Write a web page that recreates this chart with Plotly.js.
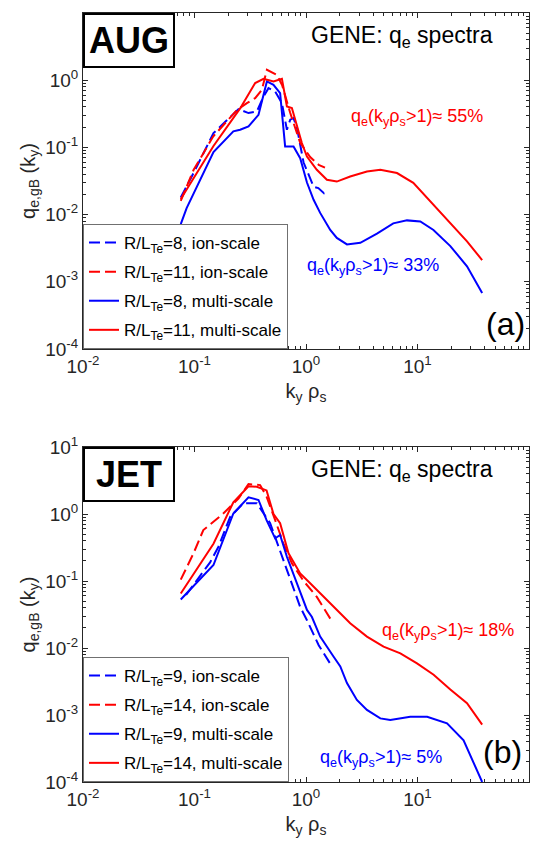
<!DOCTYPE html>
<html>
<head>
<meta charset="utf-8">
<script src="https://cdn.plot.ly/plotly-3.0.1.min.js"></script>
<style>html,body{margin:0;padding:0;background:#fff;}#chart{width:543px;height:843px;}</style>
</head>
<body>
<div id="chart"></div>
<script>
// ---------- AUG (a) ----------
const kAug8Ion  = [0.0753, 0.098, 0.148, 0.248, 0.305, 0.3626, 0.416, 0.461, 0.529, 0.608, 0.674, 0.722, 0.773, 0.83, 0.95, 1.17, 1.29, 1.44, 1.48];
const qAug8Ion  = [0.018, 0.0415, 0.163, 0.371, 0.324, 0.342, 0.571, 0.762, 0.679, 0.456, 0.183, 0.258, 0.273, 0.196, 0.06, 0.026, 0.0248, 0.021, 0.025];
const kAug11Ion = [0.0753, 0.098, 0.147, 0.24, 0.295, 0.35, 0.402, 0.446, 0.548, 0.61, 0.67, 0.72, 0.887, 1.09, 1.3, 1.48];
const qAug11Ion = [0.016, 0.046, 0.145, 0.36, 0.456, 0.54, 0.72, 1.43, 1.2, 0.85, 0.5, 0.33, 0.117, 0.072, 0.055, 0.05];
const kAug8Multi  = [0.0753, 0.085, 0.148, 0.223, 0.2566, 0.305, 0.375, 0.446, 0.511, 0.586, 0.65, 0.773, 0.887, 1.02, 1.17, 1.34, 1.65, 1.89, 2.33, 3.07, 4.33, 6.06, 8.05, 10.6, 13.9, 19.7, 27.8, 38];
const qAug8Multi  = [0.0072, 0.0125, 0.085, 0.173, 0.183, 0.205, 0.305, 0.957, 0.855, 0.643, 0.103, 0.103, 0.069, 0.03, 0.0166, 0.0106, 0.0059, 0.0045, 0.0036, 0.0038, 0.0052, 0.0074, 0.0082, 0.0079, 0.0059, 0.0034, 0.0017, 0.00068];
const kAug11Multi = [0.0753, 0.148, 0.2566, 0.295, 0.35, 0.416, 0.511, 0.608, 0.674, 0.747, 0.918, 1.02, 1.25, 1.54, 1.89, 2.49, 3.52, 4.64, 6.55, 9.17, 13.9, 19.7, 27.8, 38];
const qAug11Multi = [0.017, 0.105, 0.38, 0.571, 0.906, 1.05, 0.957, 1.05, 0.406, 0.385, 0.116, 0.073, 0.0465, 0.033, 0.031, 0.0369, 0.0438, 0.0465, 0.0415, 0.0297, 0.014, 0.0076, 0.004, 0.0021];

// ---------- JET (b) ----------
const kJet9Ion  = [0.084, 0.138, 0.164, 0.209, 0.275, 0.362, 0.477, 0.567, 0.674, 0.773, 0.887, 1.02, 1.3, 1.71];
const qJet9Ion  = [0.062, 0.19, 0.325, 0.91, 1.45, 1.45, 0.73, 0.325, 0.146, 0.073, 0.041, 0.026, 0.011, 0.0053];
const kJet14Ion = [0.0753, 0.098, 0.12, 0.176, 0.248, 0.305, 0.388, 0.443, 0.529, 0.627, 0.747, 0.951, 1.25, 1.71];
const qJet14Ion = [0.105, 0.259, 0.577, 0.97, 1.7, 2.8, 2.7, 1.81, 0.81, 0.365, 0.184, 0.1, 0.058, 0.025];
const kJet9Multi  = [0.0753, 0.148, 0.223, 0.305, 0.375, 0.443, 0.529, 0.586, 0.674, 0.829, 1.02, 1.13, 1.34, 1.77, 2.03, 2.33, 2.86, 3.52, 4.64, 5.7, 8.61, 12.2, 18.4, 25.9, 38];
const qJet9Multi  = [0.053, 0.173, 1.02, 1.77, 1.62, 0.81, 0.434, 0.486, 0.23, 0.092, 0.037, 0.029, 0.0148, 0.0074, 0.0053, 0.003, 0.00168, 0.00119, 0.00089, 0.00084, 0.00094, 0.00094, 0.00075, 0.00042, 0.0001];
const kJet14Multi = [0.0753, 0.148, 0.223, 0.305, 0.362, 0.443, 0.511, 0.586, 0.697, 0.887, 1.09, 1.34, 1.65, 2.03, 2.49, 3.52, 4.96, 7.02, 9.9, 13.95, 19.7, 27.8, 38];
const qJet14Multi = [0.065, 0.36, 1.5, 2.6, 2.55, 2.25, 1.0, 0.73, 0.259, 0.13, 0.0925, 0.0655, 0.0464, 0.033, 0.0234, 0.0148, 0.0105, 0.0083, 0.0059, 0.004, 0.0024, 0.0015, 0.00072];

const namesAug = ['R/L<sub>Te</sub>=8, ion-scale', 'R/L<sub>Te</sub>=11, ion-scale', 'R/L<sub>Te</sub>=8, multi-scale', 'R/L<sub>Te</sub>=11, multi-scale'];
const namesJet = ['R/L<sub>Te</sub>=9, ion-scale', 'R/L<sub>Te</sub>=14, ion-scale', 'R/L<sub>Te</sub>=9, multi-scale', 'R/L<sub>Te</sub>=14, multi-scale'];
const xTickVals = [0.01, 0.1, 1, 10, 100];
const xTickText = ['10<sup>-2</sup>', '10<sup>-1</sup>', '10<sup>0</sup>', '10<sup>1</sup>', '10<sup>2</sup>'];
const yTickVals = [0.0001, 0.001, 0.01, 0.1, 1, 10];
const yTickText = ['10<sup>-4</sup>', '10<sup>-3</sup>', '10<sup>-2</sup>', '10<sup>-1</sup>', '10<sup>0</sup>', '10<sup>1</sup>'];

const BLUE = '#0000ff', RED = '#ff0000';
const DASH = '11px,5px';
function tr(k, q, name, color, dash, xa, ya, leg, grp) {
  return {x: k, y: q, name: name, type: 'scatter', mode: 'lines',
    line: {color: color, width: 2, dash: dash}, xaxis: xa, yaxis: ya,
    legend: leg, legendgroup: grp, hoverinfo: 'skip'};
}
const data = [
  tr(kAug8Ion, qAug8Ion, namesAug[0], BLUE, DASH, 'x', 'y', 'legend', 'a1'),
  tr(kAug11Ion, qAug11Ion, namesAug[1], RED, DASH, 'x', 'y', 'legend', 'a2'),
  tr(kAug8Multi, qAug8Multi, namesAug[2], BLUE, 'solid', 'x', 'y', 'legend', 'a3'),
  tr(kAug11Multi, qAug11Multi, namesAug[3], RED, 'solid', 'x', 'y', 'legend', 'a4'),
  tr(kJet9Ion, qJet9Ion, namesJet[0], BLUE, DASH, 'x2', 'y2', 'legend2', 'b1'),
  tr(kJet14Ion, qJet14Ion, namesJet[1], RED, DASH, 'x2', 'y2', 'legend2', 'b2'),
  tr(kJet9Multi, qJet9Multi, namesJet[2], BLUE, 'solid', 'x2', 'y2', 'legend2', 'b3'),
  tr(kJet14Multi, qJet14Multi, namesJet[3], RED, 'solid', 'x2', 'y2', 'legend2', 'b4')
];

const AX = '#262626';
const FONT = 'Liberation Sans, Arial, Helvetica, sans-serif';
function xax(anchor) {
  return {type: 'log', range: [-2, 2], anchor: anchor, tickmode: 'array', tickvals: xTickVals, ticktext: xTickText,
    ticks: 'inside', ticklen: 5, tickwidth: 1, tickcolor: AX, showline: true, linecolor: AX, linewidth: 1,
    mirror: 'allticks', showgrid: false, zeroline: false, tickfont: {size: 19, color: AX, family: FONT},
    minor: {dtick: 'D1', ticks: 'inside', ticklen: 3, tickcolor: AX, showgrid: false},
    title: {text: 'k<sub>y</sub> ρ<sub>s</sub>', font: {size: 20, color: AX, family: FONT}, standoff: 8}};
}
function yax(anchor, domain) {
  return {type: 'log', range: [-4, 1], anchor: anchor, domain: domain, tickmode: 'array', tickvals: yTickVals, ticktext: yTickText,
    ticks: 'inside', ticklen: 5, tickwidth: 1, tickcolor: AX, showline: true, linecolor: AX, linewidth: 1,
    mirror: 'allticks', showgrid: false, zeroline: false, tickfont: {size: 19, color: AX, family: FONT},
    minor: {dtick: 'D1', ticks: 'inside', ticklen: 3, tickcolor: AX, showgrid: false},
    title: {text: 'q<sub>e,gB</sub> (k<sub>y</sub>)', font: {size: 20, color: AX, family: FONT}, standoff: 4}};
}
function legendCfg(y) {
  return {x: 0, y: y, xref: 'paper', yref: 'paper', xanchor: 'left', yanchor: 'bottom',
    bgcolor: '#ffffff', bordercolor: '#707070', borderwidth: 1, traceorder: 'grouped', tracegroupgap: 4,
    font: {size: 17, color: '#000', family: FONT}, itemclick: false};
}
function ann(text, x, y, size, color, extra) {
  return Object.assign({text: text, x: x, y: y, xref: 'paper', yref: 'paper', showarrow: false,
    font: {size: size, color: color, family: FONT}, xanchor: 'center', yanchor: 'middle'}, extra || {});
}
const topDom = [0.5631, 1], botDom = [0, 0.4356];
const layout = {
  width: 543, height: 843, margin: {l: 83, r: 14, t: 13, b: 61},
  paper_bgcolor: '#fff', plot_bgcolor: '#fff', font: {family: FONT},
  xaxis: xax('y'), yaxis: yax('x', topDom),
  xaxis2: xax('y2'), yaxis2: yax('x2', botDom),
  showlegend: true,
  legend: legendCfg(topDom[0]),
  legend2: legendCfg(0),
  annotations: [
    ann('<b>AUG</b>', 0, 1, 36, '#000', {xanchor: 'left', yanchor: 'top', bordercolor: '#000', borderwidth: 2, borderpad: 0, bgcolor: '#fff', width: 88, height: 51}),
    ann('GENE: q<sub>e</sub> spectra', 0.715, 0.969, 23, '#000'),
    ann('q<sub>e</sub>(k<sub>y</sub>ρ<sub>s</sub>&gt;1)≈ 55%', 0.749, 0.864, 18, RED),
    ann('q<sub>e</sub>(k<sub>y</sub>ρ<sub>s</sub>&gt;1)≈ 33%', 0.651, 0.670, 18, BLUE),
    ann('(a)', 0.9468, 0.596, 32, '#000'),
    ann('<b>JET</b>', 0, 0.4356, 36, '#000', {xanchor: 'left', yanchor: 'top', bordercolor: '#000', borderwidth: 2, borderpad: 0, bgcolor: '#fff', width: 88, height: 51}),
    ann('GENE: q<sub>e</sub> spectra', 0.715, 0.405, 23, '#000'),
    ann('q<sub>e</sub>(k<sub>y</sub>ρ<sub>s</sub>&gt;1)≈ 18%', 0.819, 0.196, 18, RED),
    ann('q<sub>e</sub>(k<sub>y</sub>ρ<sub>s</sub>&gt;1)≈ 5%', 0.668, 0.0306, 18, BLUE),
    ann('(b)', 0.940, 0.0395, 32, '#000')
  ]
};
Plotly.newPlot('chart', data, layout, {displayModeBar: false, staticPlot: true});
</script>
</body>
</html>
